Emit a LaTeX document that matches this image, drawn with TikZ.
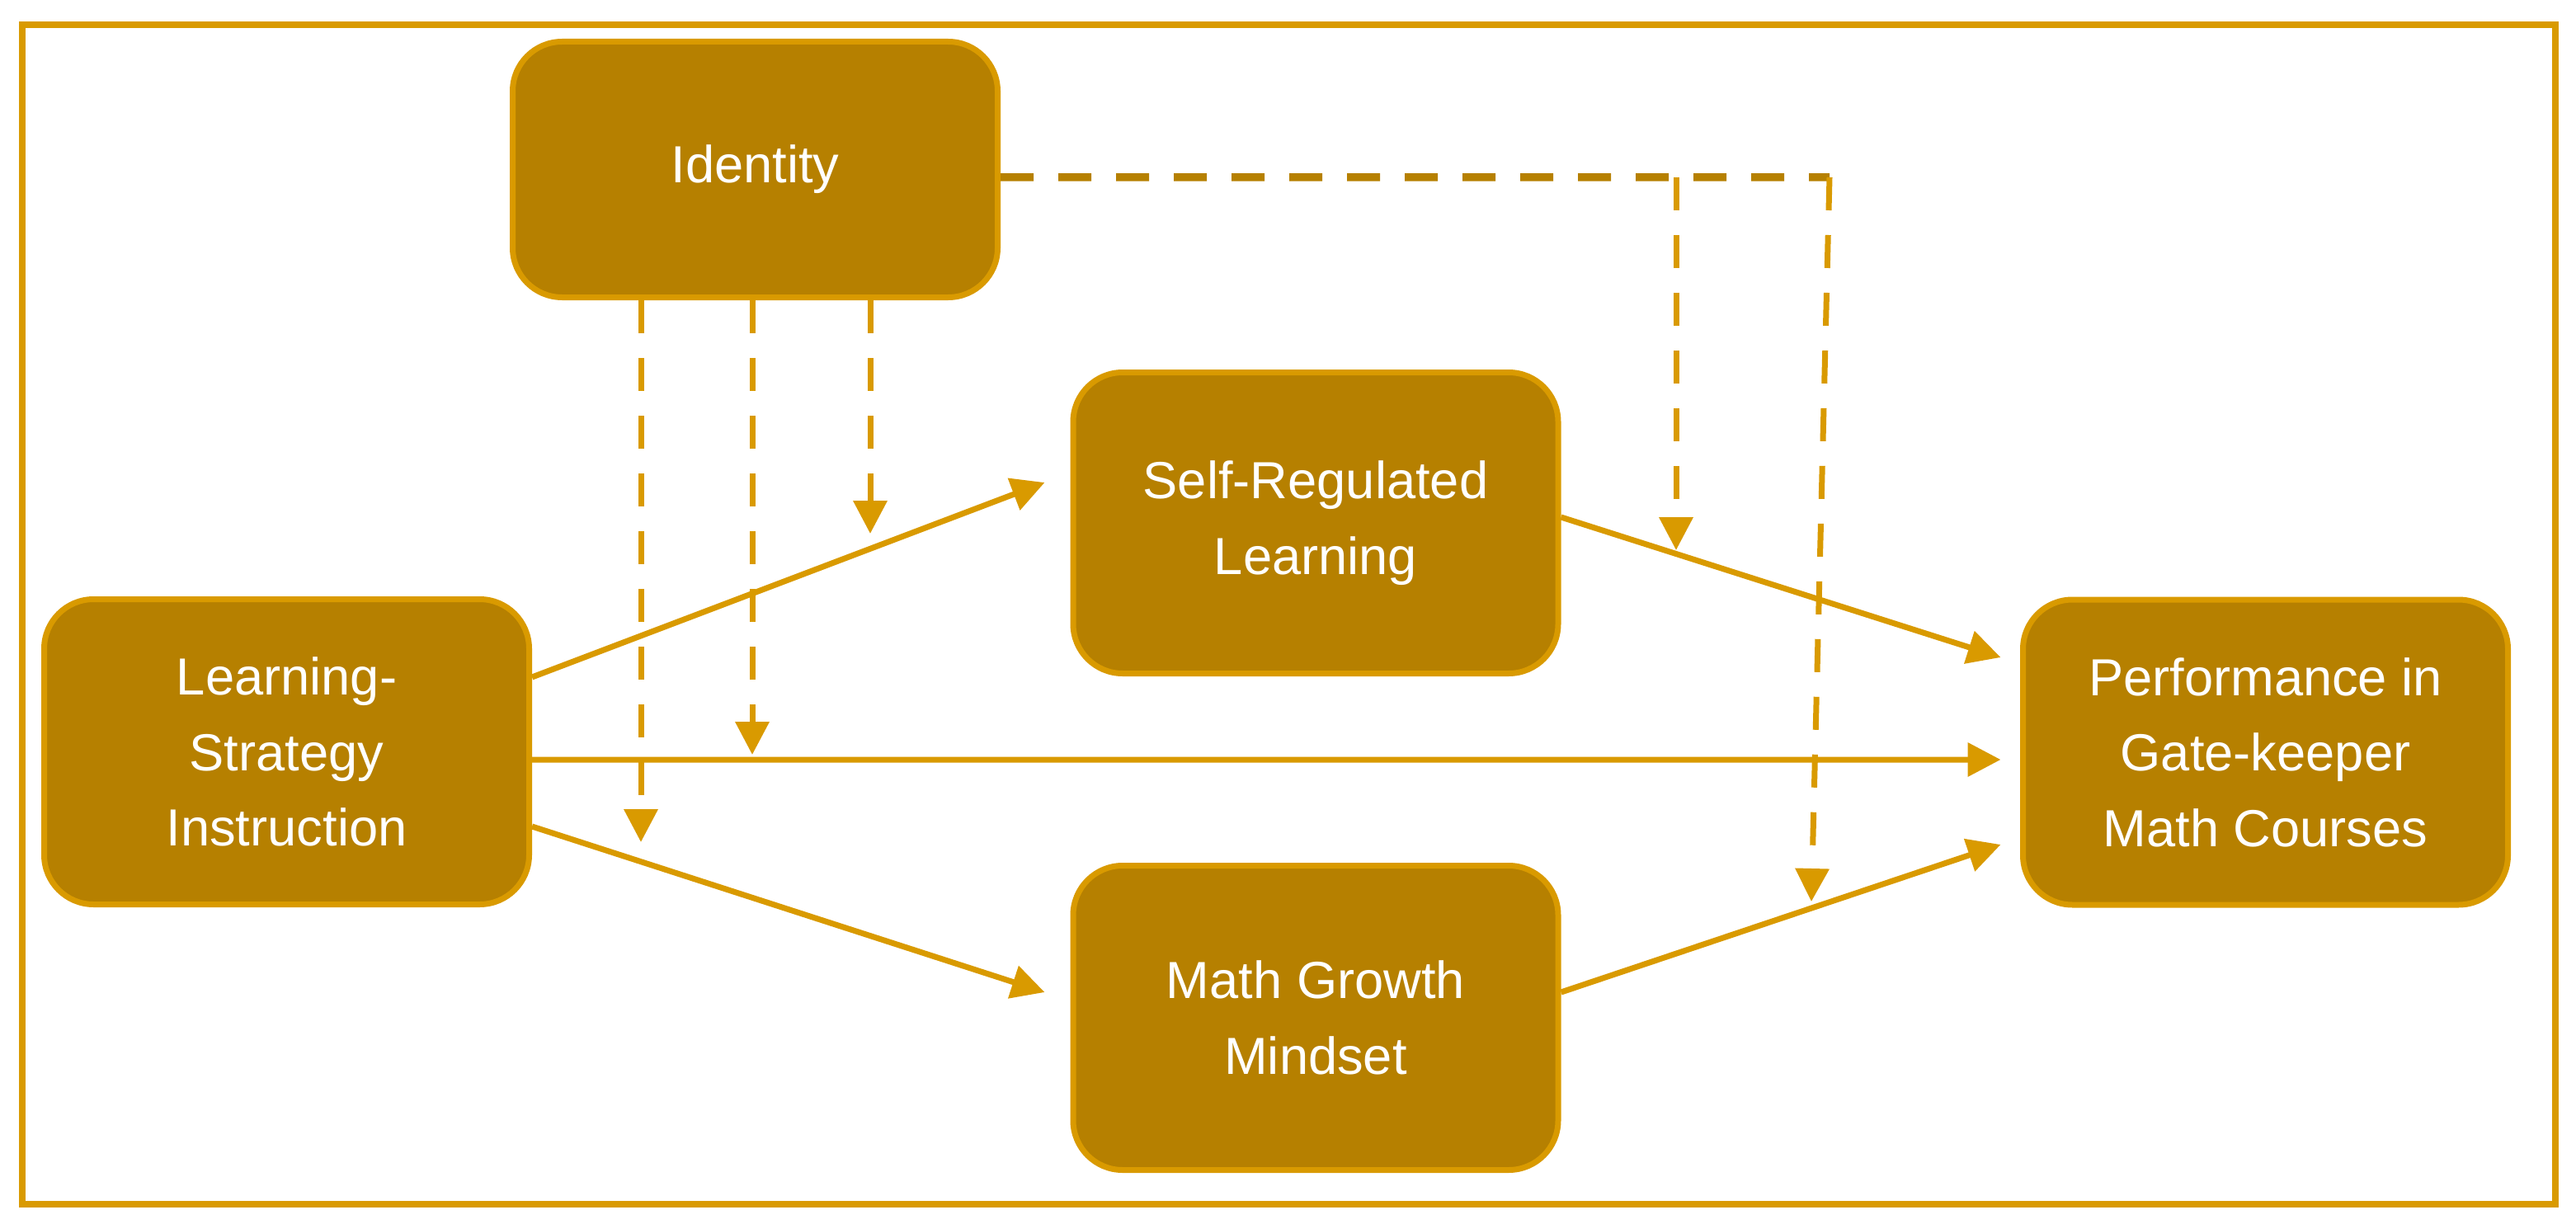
\documentclass[tikz,border=0pt]{standalone}
\usepackage{fontspec}
\setmainfont{Liberation Sans}
\usepackage{tikz}
\usetikzlibrary{positioning}
\usetikzlibrary{shapes.geometric, arrows.meta}
\definecolor{goldfill}{RGB}{182,128,0}
\definecolor{goldline}{RGB}{217,154,0}
\tikzstyle{factor} = [rectangle, rounded corners=0.6cm, minimum width=5.88cm, minimum height=3.7cm, text centered, align=center, draw=goldline, line width=0.07cm, fill=goldfill, text=white, font=\fontsize{18}{26}\selectfont]
\tikzstyle{arrow} = [line width=0.07cm, draw=goldline, -{Triangle[length=0.4cm,width=0.4cm]}]
\tikzstyle{dasharrow} = [arrow, dash pattern=on 0.4cm off 0.3cm]
\tikzstyle{dashline} = [line width=0.095cm, draw=goldfill, dash pattern=on 0.4cm off 0.3cm]
\tikzstyle{frame} = [line width=0.08cm, draw=goldline]

\begin{document}
\begin{tikzpicture}[node distance=2.5cm]

	\useasboundingbox (0,0) rectangle (31.23,-14.84);
	\draw [frame] (0.27,-0.30) rectangle (30.975,-14.60);

	\node (ident) [factor, minimum height=3.1cm] at (9.155,-2.055) {Identity};
	\node (srl) [factor, minimum height=3.65cm] at (15.95,-6.34) {Self-Regulated\\Learning};
	\node (lsi) [factor] at (3.475,-9.115) {Learning-\\Strategy\\Instruction};
	\node (mgm) [factor, minimum height=3.69cm] at (15.95,-12.34) {Math Growth\\Mindset};
	\node (perf) [factor] at (27.465,-9.12) {Performance in\\Gate-keeper\\Math Courses};

	\draw [arrow] ([yshift=0.905cm]lsi.east) -- ([xshift=-0.31cm,yshift=0.49cm]srl.west);
	\draw [arrow] ([yshift=-0.095cm]lsi.east) -- ([xshift=-0.235cm,yshift=-0.09cm]perf.west);
	\draw [arrow] ([yshift=-0.905cm]lsi.east) -- ([xshift=-0.31cm,yshift=0.31cm]mgm.west);
	\draw [arrow] ([yshift=0.07cm]srl.east) -- ([xshift=-0.235cm,yshift=1.15cm]perf.west);
	\draw [arrow] ([yshift=0.31cm]mgm.east) -- ([xshift=-0.235cm,yshift=-1.12cm]perf.west);

	\coordinate (tipA) at (7.77,-10.21);
	\coordinate (tipB) at (9.12,-9.15);
	\coordinate (tipC) at (10.55,-6.47);
	\coordinate (branch) at (20.32,-2.15);
	\coordinate (corner) at (22.18,-2.15);
	\coordinate (tipD) at (20.32,-6.67);
	\coordinate (tipE) at (21.96,-10.93);

	\draw [dasharrow] (ident.south -| tipA) -- (tipA);
	\draw [dasharrow] (ident.south -| tipB) -- (tipB);
	\draw [dasharrow] (ident.south -| tipC) -- (tipC);
	\draw [dashline] ([yshift=-0.095cm]ident.east) -- (corner);
	\draw [dasharrow] (branch) -- (tipD);
	\draw [dasharrow] (corner) -- (tipE);

\end{tikzpicture}
\end{document}
